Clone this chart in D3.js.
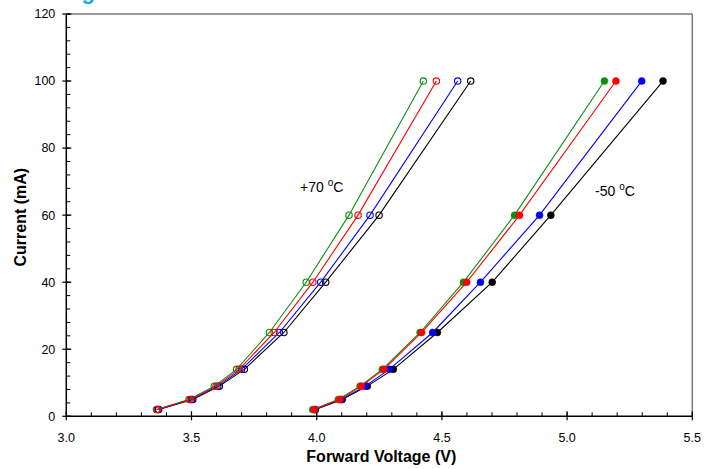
<!DOCTYPE html>
<html>
<head>
<meta charset="utf-8">
<script src="https://cdn.jsdelivr.net/npm/d3@7"></script>
<style>
  html, body { margin: 0; padding: 0; background: #fff; }
  svg { display: block; font-family: Arial, "Liberation Sans", Helvetica, sans-serif; }
</style>
</head>
<body>
<svg id="chart" width="717" height="469"></svg>
<script>
// Drive current levels (mA) at which forward voltage was measured
const currents = [2, 5, 9, 14, 25, 40, 60, 100];

// Forward voltage (V) per device, +70 °C
const hotGreen = [3.360, 3.490, 3.591, 3.680, 3.811, 3.958, 4.129, 4.426];
const hotRed   = [3.363, 3.495, 3.598, 3.690, 3.830, 3.985, 4.165, 4.478];
const hotBlue  = [3.366, 3.500, 3.605, 3.700, 3.851, 4.016, 4.213, 4.563];
const hotBlack = [3.369, 3.505, 3.611, 3.711, 3.869, 4.036, 4.249, 4.615];

// Forward voltage (V) per device, -50 °C
const coldGreen = [3.984, 4.086, 4.173, 4.262, 4.413, 4.586, 4.790, 5.149];
const coldRed   = [3.990, 4.092, 4.178, 4.268, 4.419, 4.599, 4.810, 5.195];
const coldBlue  = [3.992, 4.097, 4.194, 4.290, 4.463, 4.654, 4.890, 5.298];
const coldBlack = [3.995, 4.102, 4.202, 4.306, 4.482, 4.701, 4.935, 5.383];

const xTicks = [3.0, 3.5, 4.0, 4.5, 5.0, 5.5];
const yTicks = [0, 20, 40, 60, 80, 100, 120];

const svg = d3.select("#chart");
const plotL = 66.3, plotR = 692.3, plotT = 14, plotB = 416.3;

const x = d3.scaleLinear().domain([3, 5.5]).range([plotL, plotR]);
const y = d3.scaleLinear().domain([0, 120]).range([plotB, plotT]);

// Title (runs off the top edge)
svg.append("text")
  .attr("x", 62).attr("y", -1)
  .attr("fill", "#19a9e8")
  .attr("font-size", 22).attr("font-weight", "bold")
  .text("Figure");

// Frame: grey top and right edges
svg.append("line").attr("x1", plotL).attr("x2", plotR).attr("y1", plotT).attr("y2", plotT)
  .attr("stroke", "#7a7a7a").attr("stroke-width", 1.5);
svg.append("line").attr("x1", plotR).attr("x2", plotR).attr("y1", plotT).attr("y2", plotB)
  .attr("stroke", "#7a7a7a").attr("stroke-width", 1.5);

// Minor ticks (inside only)
const xMinor = d3.range(0, 26).map(i => 3 + i * 0.1);
const yMinor = d3.range(0, 31).map(i => i * 4);
svg.append("g").selectAll("line").data(xMinor).join("line")
  .attr("x1", d => x(d)).attr("x2", d => x(d))
  .attr("y1", plotB).attr("y2", plotB - 4)
  .attr("stroke", "#000").attr("stroke-width", 1);
svg.append("g").selectAll("line").data(yMinor).join("line")
  .attr("x1", plotL).attr("x2", plotL + 4)
  .attr("y1", d => y(d)).attr("y2", d => y(d))
  .attr("stroke", "#000").attr("stroke-width", 1);

// Major ticks crossing the axis
svg.append("g").selectAll("line").data(xTicks).join("line")
  .attr("x1", d => x(d)).attr("x2", d => x(d))
  .attr("y1", plotB + 4).attr("y2", plotB - 5)
  .attr("stroke", "#000").attr("stroke-width", 1.2);
svg.append("g").selectAll("line").data(yTicks).join("line")
  .attr("x1", plotL - 4).attr("x2", plotL + 5)
  .attr("y1", d => y(d)).attr("y2", d => y(d))
  .attr("stroke", "#000").attr("stroke-width", 1.2);

// Axis lines
svg.append("line").attr("x1", plotL).attr("x2", plotR).attr("y1", plotB).attr("y2", plotB)
  .attr("stroke", "#000").attr("stroke-width", 1.5);
svg.append("line").attr("x1", plotL).attr("x2", plotL).attr("y1", plotT).attr("y2", plotB)
  .attr("stroke", "#000").attr("stroke-width", 1.5);

// Tick labels
svg.append("g").selectAll("text").data(xTicks).join("text")
  .attr("x", d => x(d)).attr("y", plotB + 26)
  .attr("text-anchor", "middle").attr("font-size", 12.5)
  .text(d => d3.format(".1f")(d));
svg.append("g").selectAll("text").data(yTicks).join("text")
  .attr("x", plotL - 11).attr("y", d => y(d)).attr("dy", "0.35em")
  .attr("text-anchor", "end").attr("font-size", 12.5)
  .text(d => d);

// Axis titles
svg.append("text")
  .attr("x", (plotL + plotR) / 2 + 2).attr("y", 462)
  .attr("text-anchor", "middle").attr("font-size", 16).attr("font-weight", "bold")
  .text("Forward Voltage (V)");
svg.append("text")
  .attr("transform", `translate(26,${(plotT + plotB) / 2 + 2}) rotate(-90)`)
  .attr("text-anchor", "middle").attr("font-size", 16).attr("font-weight", "bold")
  .text("Current (mA)");

// Curves: open markers for +70 °C, filled for -50 °C
const series = [
  { v: hotBlack,  color: "#000000", open: true },
  { v: hotBlue,   color: "#0000ff", open: true },
  { v: hotGreen,  color: "#108c10", open: true },
  { v: hotRed,    color: "#ff0000", open: true },
  { v: coldBlack, color: "#000000", open: false },
  { v: coldBlue,  color: "#0000ff", open: false },
  { v: coldGreen, color: "#108c10", open: false },
  { v: coldRed,   color: "#ff0000", open: false }
];

const line = d3.line().x(d => x(d[0])).y(d => y(d[1]));

series.forEach(s => {
  const pts = s.v.map((v, i) => [v, currents[i]]);
  const g = svg.append("g");
  g.append("path").attr("d", line(pts))
    .attr("fill", "none").attr("stroke", s.color).attr("stroke-width", 1.1);
  g.selectAll("circle").data(pts).join("circle")
    .attr("cx", d => x(d[0])).attr("cy", d => y(d[1]))
    .attr("r", s.open ? 3.2 : 3.5)
    .attr("fill", s.open ? "none" : s.color)
    .attr("stroke", s.color).attr("stroke-width", s.open ? 1.1 : 0.5);
});

// Temperature annotations
function tempLabel(xp, yp, num) {
  const t = svg.append("text").attr("x", xp).attr("y", yp).attr("font-size", 14);
  t.append("tspan").text(num + " ");
  t.append("tspan").attr("font-size", 10).attr("dy", -6).text("o");
  t.append("tspan").attr("dy", 6).text("C");
}
tempLabel(300, 192, "+70");
tempLabel(595, 196, "-50");
</script>
</body>
</html>
